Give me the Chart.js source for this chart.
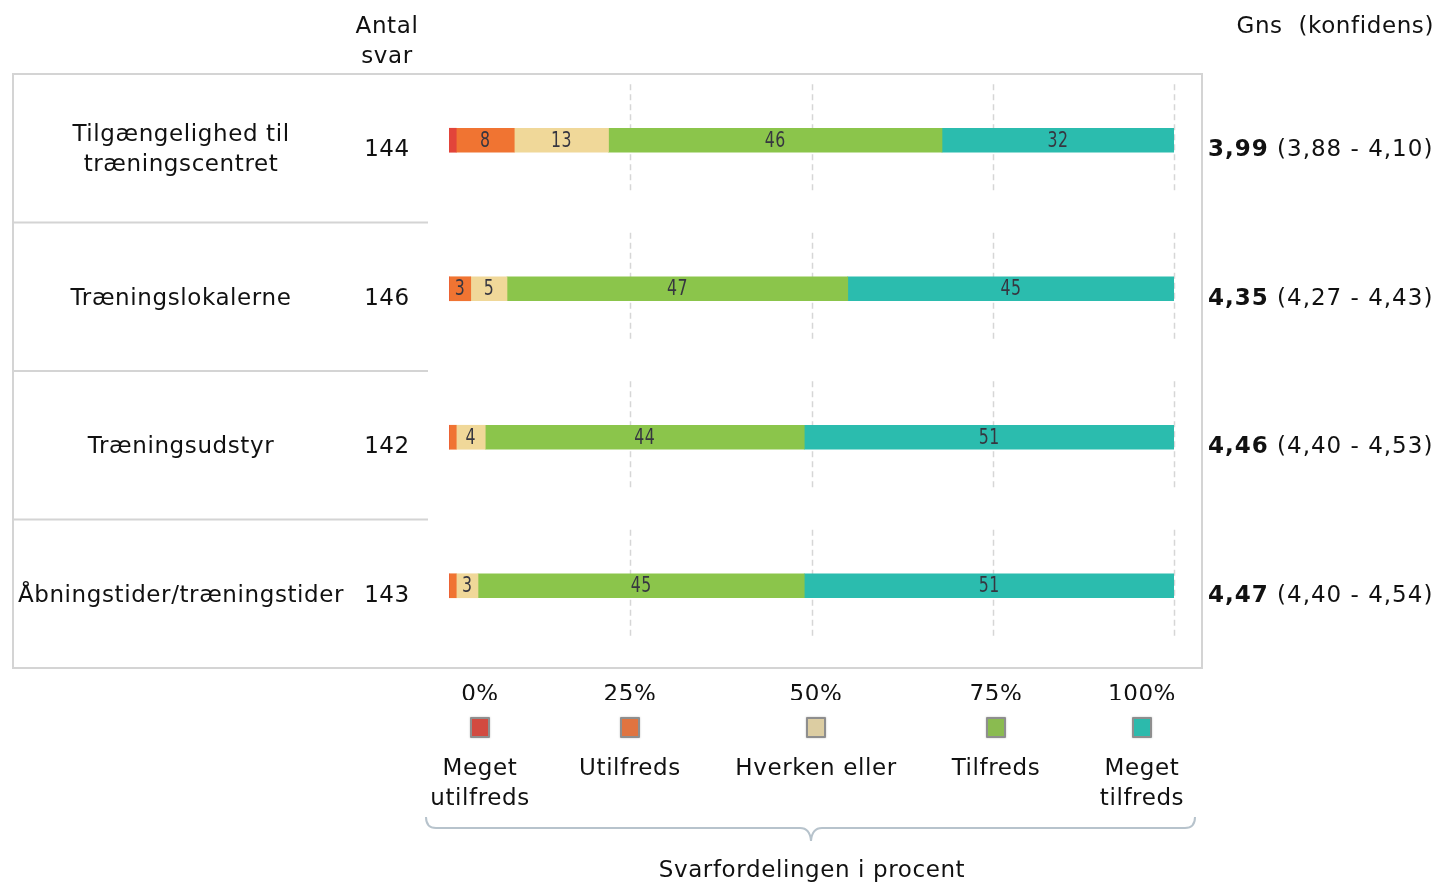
<!DOCTYPE html>
<html>
<head>
<meta charset="utf-8">
<script src="https://cdn.jsdelivr.net/npm/chart.js@4.4.1/dist/chart.umd.min.js"></script>
<style>
  body { margin: 0; background: #fff; }
  #wrap { position: relative; width: 1439px; height: 883px; overflow: hidden;
          font-family: "DejaVu Sans", Verdana, sans-serif; font-size: 23px; color: #111;
          letter-spacing: 0.6px; }
  #chart { position: absolute; left: 0; top: 0; }
  .t { position: absolute; line-height: 30px; white-space: pre; }
  .c { text-align: center; }
  .num { letter-spacing: 1px; }
  .sw { position: absolute; width: 20px; height: 21px; border: 2px solid #8e8e8e; box-sizing: border-box;
        border-radius: 1px; box-shadow: 0 0 2px rgba(0,0,0,0.25); }
  svg { position: absolute; left: 0; top: 0; }
</style>
</head>
<body>
<div id="wrap">
  <canvas id="chart" width="1439" height="883"></canvas>
  <svg width="1439" height="883">
    <path d="M426 817 Q426 828 436 828 L800 828 Q810 828 811 841 Q812 828 822 828 L1185 828 Q1195 828 1195 817"
          fill="none" stroke="#b7c3cc" stroke-width="2"/>
  </svg>
</div>
<script>
// Kategorier og svar
const categories = [["Tilgængelighed til", "træningscentret"], ["Træningslokalerne"], ["Træningsudstyr"], ["Åbningstider/træningstider"]];
const antalSvar = [144, 146, 142, 143];
const gns = ["3,99", "4,35", "4,46", "4,47"];
const konfidens = ["(3,88 - 4,10)", "(4,27 - 4,43)", "(4,40 - 4,53)", "(4,40 - 4,54)"];

// Svarfordeling i procent
const answerLabels = ["Meget utilfreds", "Utilfreds", "Hverken eller", "Tilfreds", "Meget tilfreds"];
const megetUtilfreds = [1, 0, 0, 0];
const utilfreds = [8, 3, 1, 1];
const hverkenEller = [13, 5, 4, 3];
const tilfreds = [46, 47, 44, 45];
const megetTilfreds = [32, 45, 51, 51];
const tickLabels = ["0%", "25%", "50%", "75%", "100%"];
const gridTicks = [25, 50, 75, 100];

const series = [megetUtilfreds, utilfreds, hverkenEller, tilfreds, megetTilfreds];
const barColors = ["#e2443a", "#f07432", "#f0d899", "#8bc54b", "#2bbcae"];
const swatchColors = ["#d24a40", "#e07440", "#dccda2", "#8abb50", "#2cbaac"];

const wrap = document.getElementById('wrap');
function addText(txt, x, y, cls, css) {
    const d = document.createElement('div');
    d.className = 't ' + (cls || '');
    d.textContent = txt;
    Object.assign(d.style, { left: x + 'px', top: y + 'px' }, css || {});
    wrap.appendChild(d);
    return d;
}

// Rammer, stiplede linjer og tal i søjlerne
const rowDecor = {
    id: 'rowDecor',
    beforeDatasetsDraw(chart) {
        const c = chart.ctx, x = chart.scales.x, y = chart.scales.y;
        const band = y.getPixelForValue(1) - y.getPixelForValue(0);
        const top = y.getPixelForValue(0) - band / 2 + 8;
        const bottom = y.getPixelForValue(categories.length - 1) + band / 2 + 8;
        c.save();
        c.strokeStyle = '#d4d4d4';
        c.lineWidth = 2;
        c.strokeRect(13, top, 1189, bottom - top);
        categories.forEach((cat, i) => {
            if (i === 0) return;
            const ly = y.getPixelForValue(i) - band / 2 + 8;
            c.beginPath(); c.moveTo(12, ly); c.lineTo(428, ly); c.stroke();
        });
        c.strokeStyle = '#d6d6d6';
        c.lineWidth = 1.5;
        c.setLineDash([6, 4]);
        gridTicks.forEach(t => {
            const gx = Math.round(x.getPixelForValue(t)) + 0.5;
            categories.forEach((cat, i) => {
                const cy = y.getPixelForValue(i);
                c.beginPath(); c.moveTo(gx, cy - 56); c.lineTo(gx, cy + 54); c.stroke();
            });
        });
        c.restore();
    },
    afterDatasetsDraw(chart) {
        const c = chart.ctx;
        const sx = 0.75;
        c.save();
        c.font = '21px "DejaVu Sans", sans-serif';
        c.fillStyle = '#363640';
        c.textAlign = 'center';
        c.textBaseline = 'middle';
        chart.data.datasets.forEach((ds, di) => {
            chart.getDatasetMeta(di).data.forEach((bar, i) => {
                const v = ds.data[i];
                if (v < 3) return;
                const p = bar.getProps(['x', 'y', 'base'], true);
                c.save();
                c.translate((p.x + p.base) / 2, p.y + 1);
                c.scale(sx, 1);
                c.fillText(String(v), 0, 0);
                c.restore();
            });
        });
        c.restore();
    }
};

const chart = new Chart(document.getElementById('chart'), {
    type: 'bar',
    data: {
        labels: categories.map(c => c.join(' ')),
        datasets: answerLabels.map((l, i) => ({
            label: l,
            data: series[i],
            backgroundColor: barColors[i],
            borderWidth: 0,
            barThickness: 24
        }))
    },
    options: {
        indexAxis: 'y',
        responsive: false,
        animation: false,
        layout: { padding: { left: 449, right: 265, top: 66, bottom: 223 } },
        scales: {
            x: { stacked: true, min: 0, max: 100, display: false },
            y: { stacked: true, display: false }
        },
        plugins: { legend: { display: false }, tooltip: { enabled: false } }
    },
    plugins: [rowDecor]
});

// Tekster ved siden af rækkerne
const ys = chart.scales.y;
categories.forEach((cat, i) => {
    const cy = ys.getPixelForValue(i) + 8;
    addText(cat.join('\n'), 12, cy - cat.length * 15, 'c', { width: '338px' });
    addText(String(antalSvar[i]), 347, cy - 15, 'c', { width: '80px' });
    const m = addText('', 1208, cy - 15, 'num');
    const b = document.createElement('b'); b.textContent = gns[i];
    m.appendChild(b);
    m.appendChild(document.createTextNode(' ' + konfidens[i]));
});

// Overskrifter
addText('Antal\nsvar', 337, 10, 'c', { width: '100px' });
addText('Gns  (konfidens)', 1134, 10, '', { width: '300px', textAlign: 'right' });

// Forklaring under diagrammet
const legendX = [480, 630, 816, 996, 1142];
const legendText = [["Meget", "utilfreds"], ["Utilfreds"], ["Hverken eller"], ["Tilfreds"], ["Meget", "tilfreds"]];
tickLabels.forEach((t, i) => {
    addText(t, legendX[i] - 70, 678, 'c', { width: '140px', height: '22px', overflow: 'hidden' });
    const s = document.createElement('div');
    s.className = 'sw';
    Object.assign(s.style, { left: (legendX[i] - 10) + 'px', top: '717px', background: swatchColors[i] });
    wrap.appendChild(s);
    addText(legendText[i].join('\n'), legendX[i] - 90, 752, 'c', { width: '180px' });
});
addText('Svarfordelingen i procent', 512, 854, 'c', { width: '600px' });
</script>
</body>
</html>
